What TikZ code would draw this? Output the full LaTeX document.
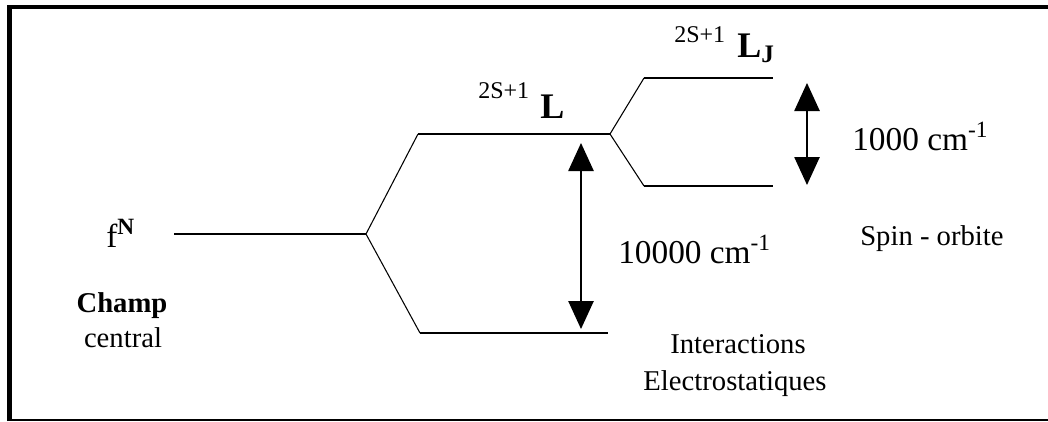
\documentclass[tikz,border=0pt]{standalone}
\usepackage{fontspec}
\setmainfont{Liberation Serif}
\usetikzlibrary{arrows.meta}
\begin{document}
\begin{tikzpicture}[x=0.75pt,y=-0.75pt,
  level/.style={line width=1.6pt},
  branch/.style={line width=0.8pt},
  gap/.style={line width=1.1pt,{Triangle[width=19pt,length=21pt]}-{Triangle[width=19pt,length=21pt]}},
  big/.style={font=\fontsize{25}{30}\selectfont, inner sep=0pt},
  lab/.style={font=\fontsize{21.5}{26}\selectfont, inner sep=0pt},
  term/.style={font=\fontsize{18}{21}\selectfont, inner sep=0pt},
  sym/.style={font=\fontsize{27}{32}\selectfont\bfseries, inner sep=0pt}]
\useasboundingbox (0,0) rectangle (1048,421);
% frame
\draw[line width=3.4pt] (9.5,421) -- (9.5,7) -- (1048,7);
\draw[line width=1.5pt] (9.5,420) -- (1048,420);
% level coordinates
\coordinate (f0) at (174,234);
\coordinate (s1) at (366,234);
\coordinate (uA) at (418,134);
\coordinate (uB) at (610,134);
\coordinate (lA) at (420,333);
\coordinate (lB) at (608,333);
\coordinate (vA) at (644,78);
\coordinate (vB) at (773,78);
\coordinate (wA) at (644,186);
\coordinate (wB) at (773,186);
% levels
\draw[level] (f0) -- (s1);
\draw[branch] (s1) -- (uA);
\draw[branch] (s1) -- (lA);
\draw[level] (uA) -- (uB);
\draw[level] (lA) -- (lB);
\draw[branch] (uB) -- (vA);
\draw[branch] (uB) -- (wA);
\draw[level] (vA) -- (vB);
\draw[level] (wA) -- (wB);
% gap arrows
\coordinate (a1t) at (581,143);
\coordinate (a1b) at (581,329);
\coordinate (a2t) at (807,83);
\coordinate (a2b) at (807,185);
\draw[gap] (a1t) -- (a1b);
\draw[gap] (a2t) -- (a2b);
% labels
\node[big, anchor=base west] (fN) at (106,247) {f\textsuperscript{\textbf{N}}};
\node[lab, anchor=base] (champ) at (122,312) {\textbf{Champ}};
\node[lab, anchor=base] (central) at (123,347) {central};
\node[term, anchor=base west] (tL) at (478,98) {2S+1};
\node[sym, anchor=base west] (L) at (540,118) {L};
\node[term, anchor=base west] (tLJ) at (674,42) {2S+1};
\node[sym, anchor=base west] (LJ) at (737,57) {L\textsubscript{J}};
\node[big, anchor=base west] (g1) at (852,150) {1000 cm\textsuperscript{-1}};
\node[big, anchor=base west] (g2) at (618,263) {10000 cm\textsuperscript{-1}};
\node[lab, anchor=base west] (so) at (860,245) {Spin - orbite};
\node[lab, anchor=base] (int) at (738,353) {Interactions};
\node[lab, anchor=base] (elec) at (735,390) {Electrostatiques};
\end{tikzpicture}
\end{document}
